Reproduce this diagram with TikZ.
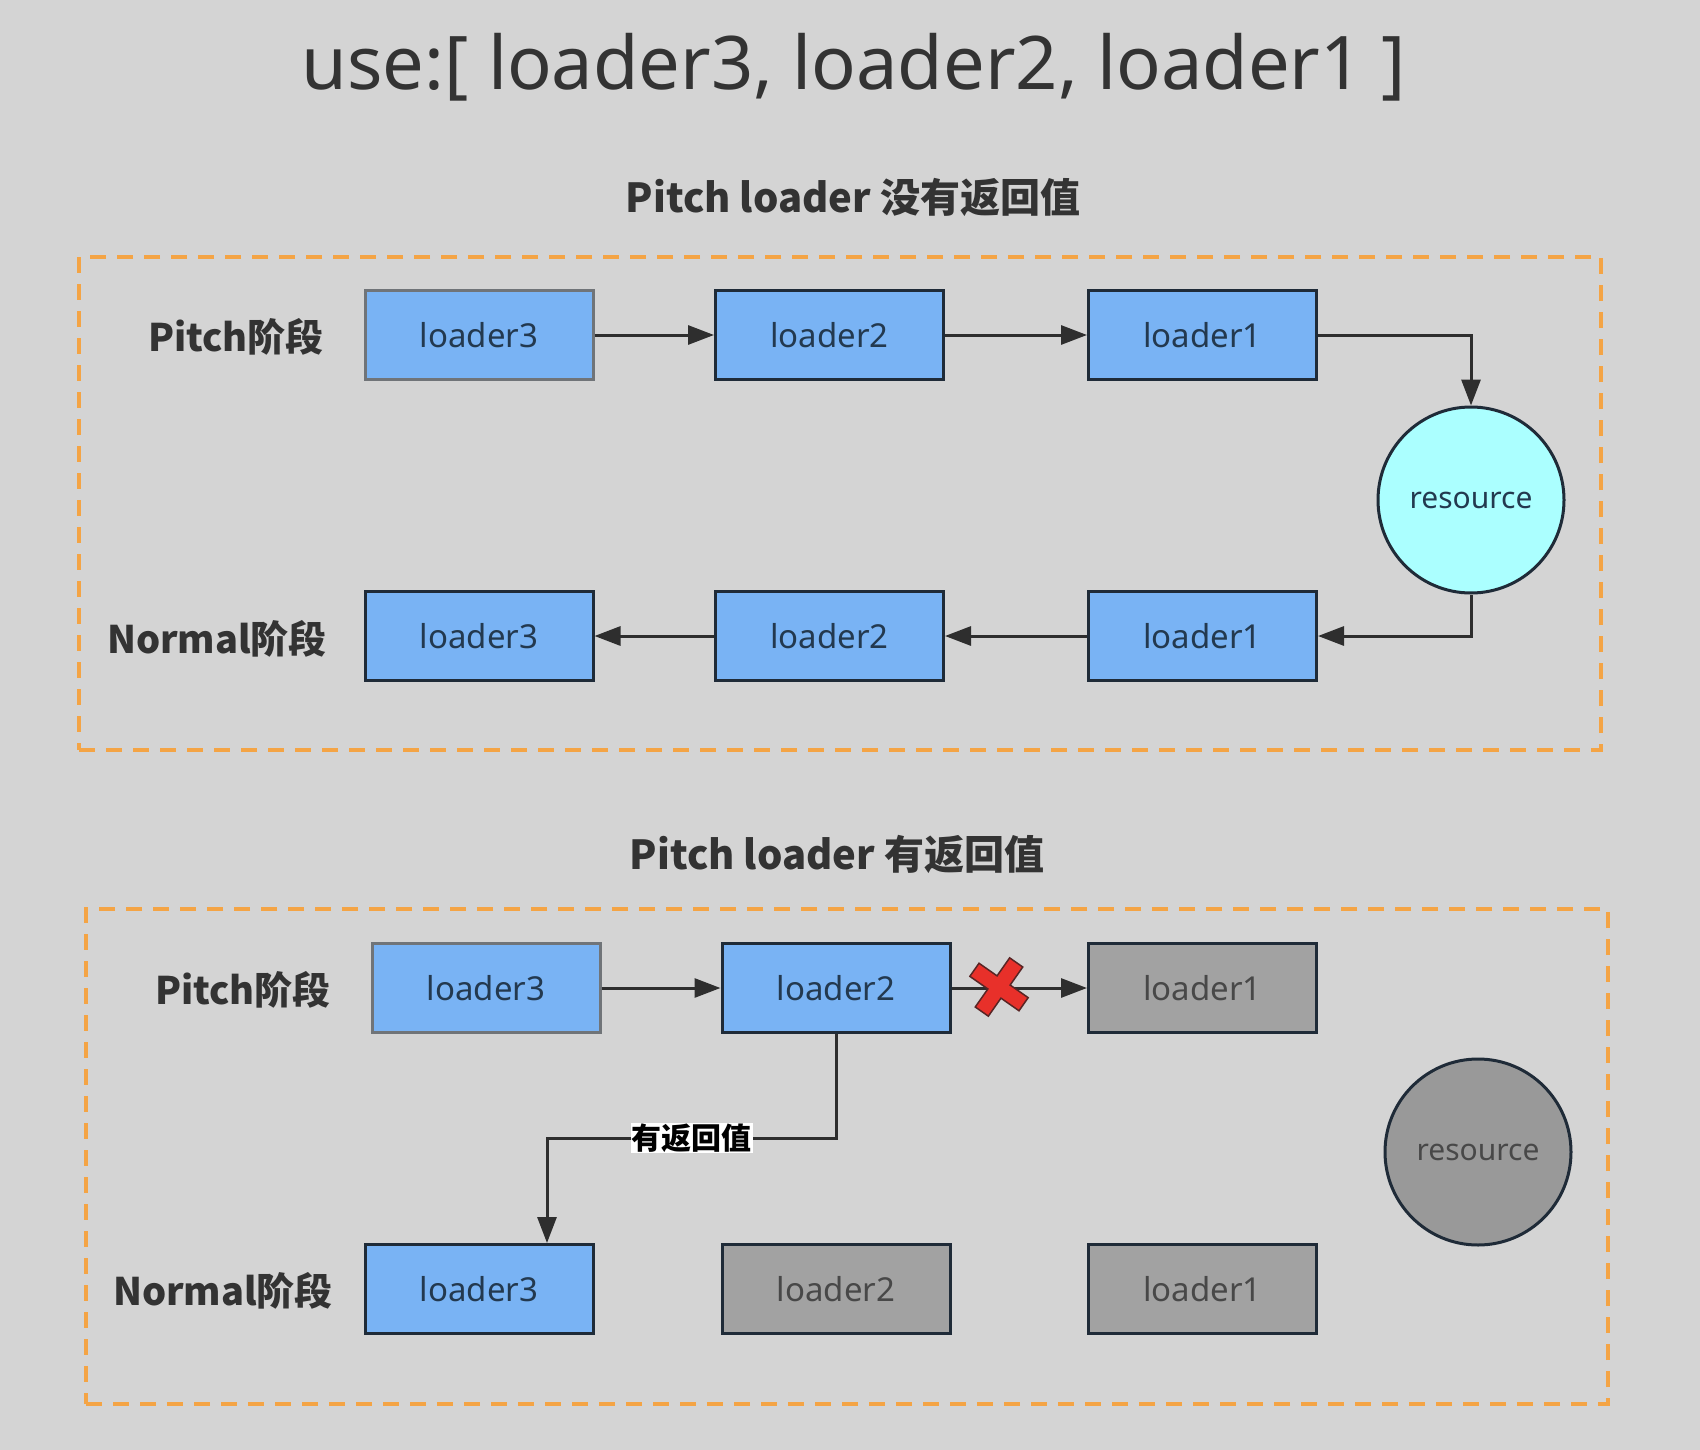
\documentclass[tikz,border=0pt]{standalone}
\usepackage{fontspec}
\setmainfont{Noto Sans}
\newfontfamily\cjk{Noto Sans CJK SC}
\usetikzlibrary{arrows.meta}
\definecolor{bg}{HTML}{D4D4D4}
\definecolor{boxblue}{HTML}{79B3F4}
\definecolor{boxline}{HTML}{1F2B38}
\definecolor{lightline}{HTML}{707478}
\definecolor{boxtext}{HTML}{23394F}
\definecolor{boxgrey}{HTML}{A2A2A2}
\definecolor{greytext}{HTML}{484848}
\definecolor{circgrey}{HTML}{999999}
\definecolor{cyanfill}{HTML}{ABFFFF}
\definecolor{arrowc}{HTML}{2E2E2E}
\definecolor{dashor}{HTML}{F4A445}
\definecolor{titlec}{HTML}{333333}
\definecolor{xred}{HTML}{E8302A}
\begin{document}
\begin{tikzpicture}[x=1pt,y=-1pt,
  ldbox/.style={draw=boxline, line width=3pt, fill=boxblue, minimum width=228pt, minimum height=89pt, inner sep=0pt, text=boxtext, font=\fontsize{33}{36}\selectfont},
  ldboxl/.style={ldbox, draw=lightline},
  gbox/.style={ldbox, fill=boxgrey, text=greytext},
  res/.style={circle, draw=boxline, line width=3pt, minimum size=186pt, inner sep=0pt, text=boxtext, font=\fontsize{30}{33}\selectfont},
  arr/.style={draw=arrowc, line width=3pt, -{Triangle[length=26pt,width=19pt]}},
  zone/.style={draw=dashor, line width=3.5pt, dash pattern=on 16pt off 11pt},
  phase/.style={text=titlec, font=\cjk\bfseries\fontsize{38}{42}\selectfont},
  sub/.style={text=titlec, font=\cjk\bfseries\fontsize{40}{44}\selectfont}]
\fill[bg] (0,0) rectangle (1700,1450);
\useasboundingbox (0,0) rectangle (1700,1450);

\node[text=titlec, font=\fontsize{74}{80}\selectfont] (title) at (854,67) {use:[ loader3, loader2, loader1 ]};

% ---------- section 1 ----------
\node[sub] (sub1) at (853,197) {Pitch loader 没有返回值};
\node[zone, minimum width=1522pt, minimum height=493pt, inner sep=0pt] (zone1) at (840,503.5) {};

\node[phase] (p1) at (236,337) {Pitch阶段};
\node[phase] (n1) at (217,639) {Normal阶段};

\node[ldboxl] (a3) at (479,335) {loader3};
\node[ldbox] (a2) at (829.5,335) {loader2};
\node[ldbox] (a1) at (1202.5,335) {loader1};
\node[res, fill=cyanfill] (r1) at (1471,500) {resource};
\node[ldbox] (b3) at (479,636) {loader3};
\node[ldbox] (b2) at (829.5,636) {loader2};
\node[ldbox] (b1) at (1202.5,636) {loader1};

\draw[arr] (a3) -- (a2);
\draw[arr] (a2) -- (a1);
\draw[arr] (a1.east) -| (r1.north);
\draw[arr] (r1.south) |- (b1.east);
\draw[arr] (b1) -- (b2);
\draw[arr] (b2) -- (b3);

% ---------- section 2 ----------
\node[sub] (sub2) at (837,854) {Pitch loader 有返回值};
\node[zone, minimum width=1522pt, minimum height=495pt, inner sep=0pt] (zone2) at (847,1156.5) {};

\node[phase] (p2) at (243,990) {Pitch阶段};
\node[phase] (n2) at (223,1291) {Normal阶段};

\node[ldboxl] (c3) at (486,988) {loader3};
\node[ldbox] (c2) at (836,988) {loader2};
\node[gbox] (c1) at (1202.5,988) {loader1};
\node[res, fill=circgrey, text=greytext] (r2) at (1478,1152) {resource};
\node[ldbox] (d3) at (479,1289) {loader3};
\node[gbox] (d2) at (836,1289) {loader2};
\node[gbox] (d1) at (1202.5,1289) {loader1};

\draw[arr] (c3) -- (c2);
\draw[arr] (c2) -- (c1);
\coordinate (k1) at (836,1138);
\coordinate (k2) at (547,1138);
\draw[arr] (c2.south) -- (k1) -- node[pos=0.5, fill=white, inner sep=1pt, text=black, font=\cjk\bfseries\fontsize{30}{33}\selectfont] (lbl) {有返回值} (k2) -- (k2 |- d3.north);

% red cross
\node[inner sep=0pt, minimum size=0pt] (xc) at (999,987) {};
\begin{scope}[shift={(xc)}, rotate=-35]
\fill[xred, draw=arrowc!80!red, line width=1.5pt]
  (-8,-30) -- (8,-30) -- (8,-8) -- (30,-8) -- (30,8) -- (8,8) -- (8,30) -- (-8,30) -- (-8,8) -- (-30,8) -- (-30,-8) -- (-8,-8) -- cycle;
\end{scope}
\end{tikzpicture}
\end{document}
